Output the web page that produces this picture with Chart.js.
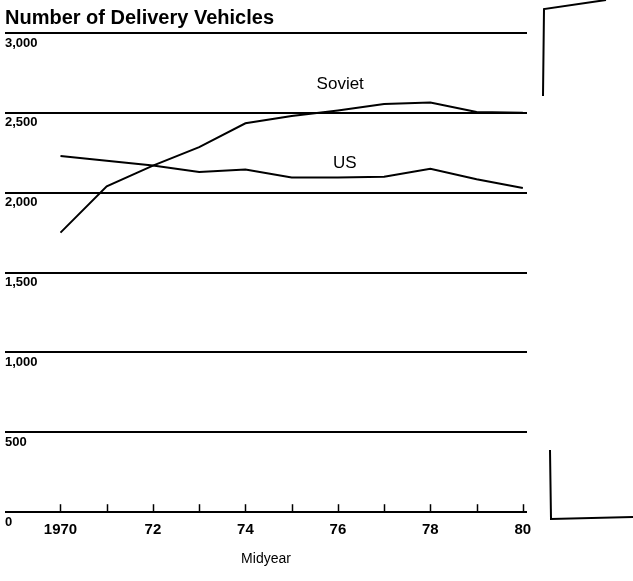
<!DOCTYPE html>
<html>
<head>
<meta charset="utf-8">
<script src="https://cdn.jsdelivr.net/npm/chart.js@4/dist/chart.umd.min.js"></script>
<style>
  html, body { margin: 0; padding: 0; background: #fff; }
  .wrap { position: relative; width: 633px; height: 581px; }
  .marks { position: absolute; left: 0; top: 0; pointer-events: none; }
</style>
</head>
<body>
<div class="wrap">
  <canvas id="c"></canvas>
  <svg class="marks" width="633" height="581">
    <polyline points="543,96 544,9 606,0" fill="none" stroke="#000" stroke-width="2"/>
    <polyline points="550,450 551,519 633,517" fill="none" stroke="#000" stroke-width="2"/>
  </svg>
</div>
<script>
const years = [1970, 1971, 1972, 1973, 1974, 1975, 1976, 1977, 1978, 1979, 1980];
const soviet = [1750, 2040, 2170, 2285, 2435, 2480, 2515, 2555, 2565, 2505, 2500];
const us = [2230, 2200, 2170, 2130, 2145, 2095, 2095, 2100, 2150, 2085, 2030];
const yTicks = [0, 500, 1000, 1500, 2000, 2500, 3000];
const lineLabels = [
  { text: 'Soviet', year: 1976.05, value: 2680 },
  { text: 'US', year: 1976.15, value: 2185 },
];

const FONT = "'Liberation Sans', Arial, sans-serif";

const tickMarks = {
  id: 'tickMarks',
  afterDatasetsDraw(chart) {
    const { ctx, scales: { x, y } } = chart;
    const base = y.getPixelForValue(0);
    ctx.save();
    ctx.strokeStyle = '#000';
    ctx.lineWidth = 1.5;
    years.forEach(v => {
      const px = Math.round(x.getPixelForValue(v)) + 0.5;
      ctx.beginPath();
      ctx.moveTo(px, base);
      ctx.lineTo(px, base - 8);
      ctx.stroke();
    });
    ctx.fillStyle = '#000';
    ctx.font = `17px ${FONT}`;
    ctx.textAlign = 'center';
    ctx.textBaseline = 'middle';
    lineLabels.forEach(l => {
      ctx.fillText(l.text, x.getPixelForValue(l.year), y.getPixelForValue(l.value));
    });
    ctx.restore();
  }
};

new Chart(document.getElementById('c'), {
  type: 'line',
  data: {
    datasets: [
      { label: 'Soviet', data: years.map((yr, i) => ({ x: yr, y: soviet[i] })), borderColor: '#000', borderWidth: 2, pointRadius: 0, tension: 0, fill: false },
      { label: 'US', data: years.map((yr, i) => ({ x: yr, y: us[i] })), borderColor: '#000', borderWidth: 2, pointRadius: 0, tension: 0, fill: false },
    ]
  },
  options: {
    responsive: true, maintainAspectRatio: false, animation: false,
    layout: { padding: { left: 5, right: 106, top: 0, bottom: 13 } },
    plugins: {
      legend: { display: false },
      tooltip: { enabled: false },
      title: {
        display: true, text: 'Number of Delivery Vehicles', align: 'start', color: '#000',
        font: { family: FONT, size: 20, weight: 'bold' }, padding: { top: 6, bottom: 3 }
      }
    },
    scales: {
      x: {
        type: 'linear', min: 1968.8, max: 1980.09,
        afterBuildTicks: s => { s.ticks = years.map(v => ({ value: v })); },
        grid: { display: false, drawTicks: false },
        border: { display: false },
        ticks: {
          color: '#000', padding: 9, maxRotation: 0, autoSkip: false,
          font: { family: FONT, size: 15, weight: 'bold' },
          callback: v => (v % 2 ? '' : (v === 1970 ? '1970' : String(v).slice(2)))
        },
        title: { display: true, text: 'Midyear', color: '#000', font: { family: FONT, size: 14 }, padding: { top: 3, bottom: 0 } }
      },
      y: {
        min: 0, max: 3000,
        afterBuildTicks: s => { s.ticks = yTicks.map(v => ({ value: v })); },
        grid: { color: '#000', lineWidth: 2, drawTicks: false },
        border: { display: false },
        ticks: {
          mirror: true, padding: 0, labelOffset: 10, color: '#000',
          font: { family: FONT, size: 13, weight: 'bold' },
          callback: v => v.toLocaleString('en-US')
        }
      }
    }
  },
  plugins: [tickMarks]
});
</script>
</body>
</html>
